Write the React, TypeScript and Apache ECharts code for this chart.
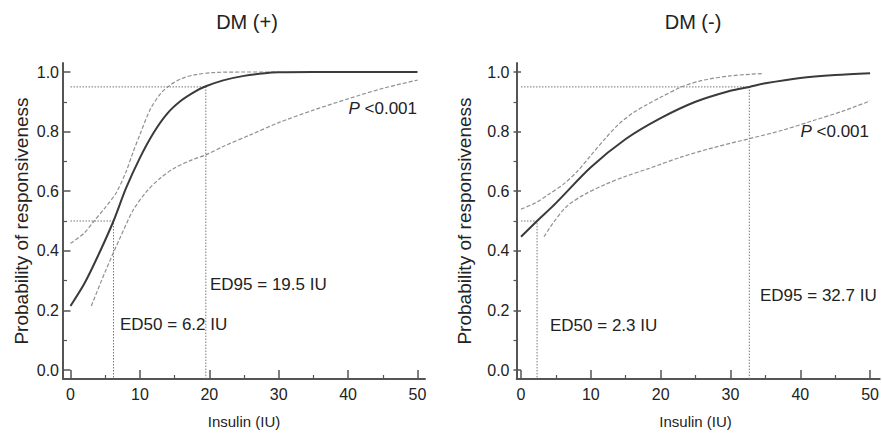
import React, { useEffect, useRef } from "react";
import * as echarts from "echarts";

// ---- Data ----
const leftMainX = [0, 2, 4, 6.2, 8, 10, 12, 14, 16, 18, 19.5, 22, 25, 28, 30, 35, 40, 45, 50];
const leftMainY = [0.215, 0.29, 0.385, 0.5, 0.61, 0.712, 0.797, 0.862, 0.905, 0.935, 0.952, 0.972, 0.987, 0.996, 0.999, 1, 1, 1, 1];
const leftUpX = [0, 2, 3.4, 5, 6.6, 8, 9, 10, 11.5, 13, 14.3, 16, 18, 20.5, 25, 30];
const leftUpY = [0.425, 0.46, 0.5, 0.545, 0.595, 0.665, 0.73, 0.79, 0.875, 0.928, 0.955, 0.978, 0.991, 0.998, 1, 1];
const leftLoX = [3, 5, 7, 9, 11, 13, 15, 17.5, 19.5, 22, 26, 30, 35, 40, 45, 50];
const leftLoY = [0.215, 0.33, 0.436, 0.535, 0.6, 0.645, 0.678, 0.705, 0.722, 0.75, 0.79, 0.83, 0.872, 0.91, 0.945, 0.973];

const rightMainX = [0, 2.3, 5, 10, 15, 20, 25, 30, 32.7, 35, 40, 45, 50];
const rightMainY = [0.447, 0.5, 0.56, 0.68, 0.775, 0.845, 0.9, 0.937, 0.95, 0.962, 0.98, 0.99, 0.996];
const rightUpX = [0, 2, 4, 6, 8, 10, 12, 14, 16, 18, 20, 23, 26, 30, 34.6];
const rightUpY = [0.54, 0.56, 0.59, 0.622, 0.665, 0.72, 0.775, 0.825, 0.862, 0.89, 0.915, 0.95, 0.972, 0.987, 0.995];
const rightLoX = [3.3, 4.5, 6.5, 9, 12, 15, 18.4, 23, 28, 33, 37.5, 42, 46, 50];
const rightLoY = [0.447, 0.49, 0.548, 0.588, 0.622, 0.65, 0.677, 0.715, 0.749, 0.778, 0.805, 0.838, 0.868, 0.903];

const ed50 = [6.2, 2.3];
const ed95 = [19.5, 32.7];
const titles = ["DM (+)", "DM (-)"];
const ed50Labels = ["ED50 = 6.2 IU", "ED50 = 2.3 IU"];
const ed95Labels = ["ED95 = 19.5 IU", "ED95 = 32.7 IU"];
const pLabel = "<0.001";
const xTicks = [0, 10, 20, 30, 40, 50];
const yTicks = [0, 0.2, 0.4, 0.6, 0.8, 1.0];

const FONT = "'Liberation Sans', Arial, Helvetica, sans-serif";
const AXIS = "#555";
const TXT = "#222";

const zip = (xs: number[], ys: number[]) => xs.map((x, i) => [x, ys[i]]);

export default function App() {
  const ref = useRef<HTMLDivElement>(null);
  useEffect(() => {
    if (!ref.current) return;
    const chart = echarts.init(ref.current, undefined, { renderer: "svg" });

    const dataGrids = [
      { left: 70.5, top: 72, width: 347, height: 298 },
      { left: 521, top: 72, width: 349.7, height: 298 },
    ];
    const frameGrids = [
      { left: 63, top: 63, width: 362, height: 316 },
      { left: 516.7, top: 63, width: 363, height: 316 },
    ];
    const yNameGap = [32, 40];

    const xAxes: any[] = [];
    const yAxes: any[] = [];
    [0, 1].forEach((p) => {
      xAxes.push({
        gridIndex: p,
        type: "value",
        min: xTicks[0],
        max: xTicks[xTicks.length - 1],
        interval: 10,
        offset: 9,
        name: "Insulin (IU)",
        nameLocation: "middle",
        nameGap: 35,
        nameTextStyle: { fontSize: 15, color: TXT, fontFamily: FONT },
        axisLine: { show: false, onZero: false },
        axisTick: { show: true, inside: true, length: 9, lineStyle: { color: AXIS, width: 1.5 } },
        minorTick: { show: true, splitNumber: 2, length: 4, lineStyle: { color: AXIS, width: 1.2 } },
        axisLabel: { fontSize: 16, color: TXT, fontFamily: FONT, margin: 7 },
        splitLine: { show: false },
      });
      yAxes.push({
        gridIndex: p,
        type: "value",
        min: yTicks[0],
        max: yTicks[yTicks.length - 1],
        interval: 0.2,
        offset: 7.5,
        name: "Probability of responsiveness",
        nameLocation: "middle",
        nameGap: yNameGap[p],
        nameTextStyle: { fontSize: 19, color: TXT, fontFamily: FONT },
        axisLine: { show: false, onZero: false },
        axisTick: { show: true, inside: true, length: 7.5, lineStyle: { color: AXIS, width: 1.5 } },
        minorTick: { show: true, splitNumber: 2, length: 4, lineStyle: { color: AXIS, width: 1.2 } },
        axisLabel: { fontSize: 16, color: TXT, fontFamily: FONT, margin: 4, formatter: (v: number) => v.toFixed(1) },
        splitLine: { show: false },
      });
    });
    [0, 1].forEach((p) => {
      const frameAxis = {
        gridIndex: 2 + p,
        type: "value",
        min: 0,
        max: 1,
        axisLine: { show: true, onZero: false, lineStyle: { color: AXIS, width: 2 } },
        axisTick: { show: false },
        axisLabel: { show: false },
        splitLine: { show: false },
      };
      xAxes.push({ ...frameAxis });
      yAxes.push({ ...frameAxis });
    });

    const curves = [
      [zip(leftMainX, leftMainY), zip(leftUpX, leftUpY), zip(leftLoX, leftLoY)],
      [zip(rightMainX, rightMainY), zip(rightUpX, rightUpY), zip(rightLoX, rightLoY)],
    ];

    const series: any[] = [];
    [0, 1].forEach((p) => {
      const refStyle = { color: "#777", width: 1, type: [1.5, 1.5] };
      series.push({
        type: "line",
        xAxisIndex: p,
        yAxisIndex: p,
        data: [[0, 0.5], [ed50[p], 0.5], [ed50[p], -0.03]],
        showSymbol: false,
        clip: false,
        lineStyle: refStyle,
        silent: true,
      });
      series.push({
        type: "line",
        xAxisIndex: p,
        yAxisIndex: p,
        data: [[0, 0.95], [ed95[p], 0.95], [ed95[p], -0.03]],
        showSymbol: false,
        clip: false,
        lineStyle: refStyle,
        silent: true,
      });
      [1, 2].forEach((k) => {
        series.push({
          type: "line",
          xAxisIndex: p,
          yAxisIndex: p,
          data: curves[p][k],
          smooth: 0.3,
          showSymbol: false,
          clip: false,
          lineStyle: { color: "#909090", width: 1.2, type: [4, 2] },
        });
      });
      series.push({
        type: "line",
        xAxisIndex: p,
        yAxisIndex: p,
        data: curves[p][0],
        smooth: 0.3,
        showSymbol: false,
        clip: false,
        lineStyle: { color: "#3a3a3a", width: 2 },
      });
    });

    const txt = (text: string, x: number, y: number, align: string, size: number, extra: any = {}) => ({
      type: "text",
      x,
      y,
      style: { text, fill: TXT, fontSize: size, fontFamily: FONT, align, verticalAlign: "middle", ...extra },
    });
    const rich = { i: { fontStyle: "italic", fontSize: 17, fontFamily: FONT, fill: TXT } };

    const graphic: any[] = [
      txt(titles[0], 247, 22, "center", 20),
      txt(titles[1], 693, 22, "center", 20),
      txt(ed95Labels[0], 210, 284, "left", 17),
      txt(ed50Labels[0], 120, 324, "left", 17),
      txt(ed50Labels[1], 550, 325, "left", 17),
      txt(ed95Labels[1], 760, 295, "left", 17),
      txt("{i|P} " + pLabel, 417, 108, "right", 17, { rich }),
      txt("{i|P} " + pLabel, 869, 131, "right", 17, { rich }),
    ];

    chart.setOption({
      animation: false,
      backgroundColor: "#fff",
      grid: [...dataGrids, ...frameGrids].map((g) => ({ ...g, containLabel: false })),
      xAxis: xAxes,
      yAxis: yAxes,
      series,
      graphic,
    });
    return () => chart.dispose();
  }, []);

  return (
    <div
      ref={ref}
      style={{ position: "fixed", left: 0, top: 0, width: 882, height: 435, background: "#fff" }}
    />
  );
}
